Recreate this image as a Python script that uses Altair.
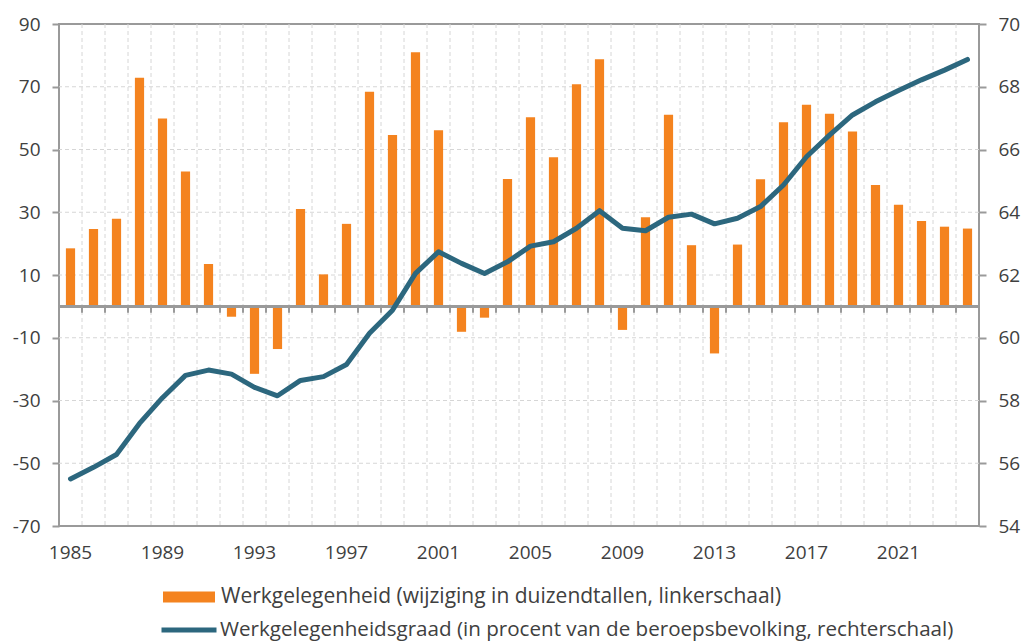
import altair as alt
import pandas as pd

years = list(range(1985, 2025))
employment_change = [18.5, 24.7, 27.9, 72.9, 59.9, 43.0, 13.5, -3.3, -21.5, -13.6,
                     31.0, 10.2, 26.3, 68.4, 54.6, 81.0, 56.1, -8.1, -3.6, 40.6,
                     60.3, 47.5, 70.8, 78.8, -7.5, 28.4, 61.1, 19.5, -15.0, 19.7,
                     40.5, 58.7, 64.3, 61.4, 55.7, 38.7, 32.4, 27.2, 25.4, 24.8]
employment_rate = [55.50, 55.87, 56.28, 57.27, 58.09, 58.80, 58.97, 58.84, 58.42, 58.15,
                   58.64, 58.76, 59.15, 60.14, 60.88, 62.05, 62.74, 62.37, 62.05, 62.42,
                   62.92, 63.06, 63.49, 64.05, 63.49, 63.41, 63.84, 63.94, 63.63, 63.81,
                   64.18, 64.87, 65.77, 66.46, 67.10, 67.52, 67.88, 68.22, 68.53, 68.87]
x_labels = [1985, 1989, 1993, 1997, 2001, 2005, 2009, 2013, 2017, 2021]
left_ticks = [-70, -50, -30, -10, 10, 30, 50, 70, 90]
left_grid = [-50, -30, -10, 10, 30, 50, 70]
right_ticks = [54, 56, 58, 60, 62, 64, 66, 68, 70]

label_bar = "Werkgelegenheid (wijziging in duizendtallen, linkerschaal)"
label_line = "Werkgelegenheidsgraad (in procent van de beroepsbevolking, rechterschaal)"

ORANGE = "#f4831f"
BLUE = "#2c677e"
FRAME = "#9a9a9a"
GRID = "#d6d6d6"
TEXT = "#404040"
AXIS_FONT = "Open Sans"
LEGEND_FONT = "Open Sans"

df = pd.DataFrame({"jaar": years, "wijziging": employment_change, "graad": employment_rate})
df["reeks1"] = label_bar
df["reeks2"] = label_line
grid_df = pd.DataFrame({"g": left_grid})


def left_scale():
    return alt.Scale(domain=[-70, 90], nice=False, zero=False)


def x_scale():
    return alt.Scale(paddingInner=0, paddingOuter=0)


def x_axis():
    return alt.Axis(values=x_labels, labelAngle=0, title=None, domain=False, ticks=False,
                    grid=False, labelPadding=17, labelFont=AXIS_FONT, labelFontSize=19,
                    labelColor=TEXT)


base = alt.Chart(df)

vgrid = base.transform_filter(alt.datum.jaar > 1985).mark_rule(
    color=GRID, strokeDash=[4, 3], strokeWidth=1
).encode(x=alt.X("jaar:O", bandPosition=0, scale=x_scale(), axis=x_axis()))

hgrid = alt.Chart(grid_df).mark_rule(color=GRID, strokeDash=[4, 3], strokeWidth=1).encode(
    y=alt.Y("g:Q", scale=left_scale(), axis=None)
)

bars = base.mark_bar(width=alt.RelativeBandSize(0.4)).encode(
    x=alt.X("jaar:O", scale=x_scale(), axis=x_axis()),
    y=alt.Y("wijziging:Q", scale=left_scale(),
            axis=alt.Axis(orient="left", values=left_ticks, title=None, grid=False,
                          domain=False, tickColor=FRAME, tickSize=7, tickWidth=2,
                          labelPadding=12, labelFont=AXIS_FONT, labelFontSize=19,
                          labelColor=TEXT, labelExpr="toString(datum.value)")),
    fill=alt.Fill("reeks1:N", scale=alt.Scale(domain=[label_bar], range=[ORANGE]),
                  legend=alt.Legend(title=None, orient="none", legendX=104, legendY=547,
                                    symbolType="M-1,-0.21H1V0.21H-1Z", symbolSize=2704,
                                    symbolStrokeWidth=0, labelFont=LEGEND_FONT,
                                    labelFontSize=21, labelColor=TEXT, labelOffset=6,
                                    padding=0, labelLimit=900)),
)

zero_line = base.mark_rule(color=FRAME, strokeWidth=2).encode(
    y=alt.YDatum(0, scale=left_scale(), axis=None)
)

zero_ticks = base.mark_rule(color=FRAME, strokeWidth=2).encode(
    x=alt.X("jaar:O", bandPosition=0, scale=x_scale(), axis=x_axis()),
    y=alt.YDatum(0, scale=left_scale(), axis=None),
    y2=alt.datum(-2),
)

line = base.mark_line(strokeWidth=5, strokeCap="round", strokeJoin="round").encode(
    x=alt.X("jaar:O", scale=x_scale(), axis=x_axis()),
    y=alt.Y("graad:Q", scale=alt.Scale(domain=[54, 70], nice=False, zero=False),
            axis=alt.Axis(orient="right", values=right_ticks, title=None, grid=False,
                          domain=False, tickColor=FRAME, tickSize=7, tickWidth=2,
                          labelPadding=12, labelFont=AXIS_FONT, labelFontSize=19,
                          labelColor=TEXT)),
    stroke=alt.Stroke("reeks2:N", scale=alt.Scale(domain=[label_line], range=[BLUE]),
                      legend=alt.Legend(title=None, orient="none", legendX=100, legendY=576,
                                        symbolType="stroke", symbolSize=3025,
                                        symbolStrokeWidth=5, labelFont=LEGEND_FONT,
                                        labelFontSize=20.6, labelColor=TEXT, labelOffset=1,
                                        padding=0, labelLimit=900)),
)

chart = alt.layer(vgrid, hgrid, bars, zero_line, zero_ticks, line).resolve_scale(
    y="independent"
).properties(
    width=920,
    height=502,
    padding={"left": 51, "top": 16, "right": 42, "bottom": 125},
    autosize=alt.AutoSizeParams(type="none"),
).configure_view(stroke=FRAME, strokeWidth=2)

chart.save("out.html", embed_options={"renderer": "svg", "actions": False})
